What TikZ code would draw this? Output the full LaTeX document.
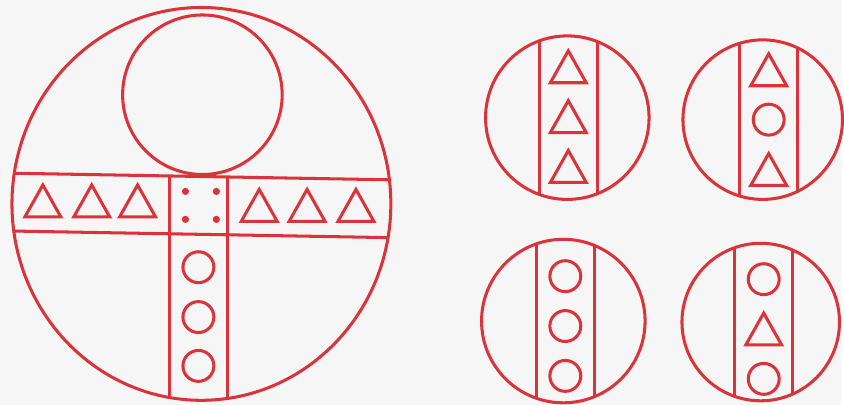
\documentclass[tikz,border=0pt]{standalone}
\usepackage{xcolor}
\usepackage{tikz}
\definecolor{cred}  {RGB}{218,52,58}
\definecolor{cpaper}{RGB}{246,246,246}
\tikzset{
  ink/.style={draw=cred, line width=2.6pt, line join=miter},
  dot/.style={fill=cred},
  trimark/.pic={\draw[ink] (-18,16) -- (0,-16) -- (18,16) -- cycle;},
  ringmark/.pic={\draw[ink] (0,0) circle (15.5);},
}

\begin{document}
\begin{tikzpicture}[x=0.03cm, y=-0.03cm]
  % ── Paper ──────────────────────────────────────────────────────────────────
  \fill[cpaper] (0,0) rectangle (844,406);

  % ── Large coin ─────────────────────────────────────────────────────────────
  \coordinate (big)  at (202,204.5);
  \coordinate (head) at (203,95);
  \draw[ink] (big) ellipse [x radius=190, y radius=197];
  \draw[ink] (head) circle (80);
  \begin{scope}
    \clip (big) ellipse [x radius=190, y radius=197];
    \draw[ink] (0,173.5) -- (400,180.5)
               (0,231.5) -- (400,238.5);
    \draw[ink] (170,177) -- (170,406)
               (228,177) -- (228,406);
  \end{scope}

  % four dots in the crossing
  \foreach \px in {186,217}
    \foreach \py in {192,220}
      \fill[dot] (\px,\py) circle (3.6);

  % triangles along the arms
  \foreach \tx in {43,92,138}
    \pic at (\tx,201.5) {trimark};
  \foreach \tx in {260,308,357}
    \pic at (\tx,206) {trimark};

  % rings down the stem
  \foreach \ry in {268,318,367}
    \pic at (199,\ry) {ringmark};

  % ── Small coins ────────────────────────────────────────────────────────────
  \foreach \cx/\cy/\r/\bx/\ty/\marks in {
      569/118/82/570/67/{trimark,trimark,trimark},
      765/120/80/771/70/{trimark,ringmark,trimark},
      565/322/82/567/277/{ringmark,ringmark,ringmark},
      763/323/79/766/280/{ringmark,trimark,ringmark}}
  {
    \coordinate (coin) at (\cx,\cy);
    \begin{scope}
      \clip (coin) circle (\r);
      \draw[ink] (\bx-29,0) -- (\bx-29,406)
                 (\bx+29,0) -- (\bx+29,406);
    \end{scope}
    \draw[ink] (coin) circle (\r);
    \foreach \m [count=\i] in \marks
      \pic at (\bx,{\ty+(\i-1)*50}) {\m};
  }
\end{tikzpicture}
\end{document}
